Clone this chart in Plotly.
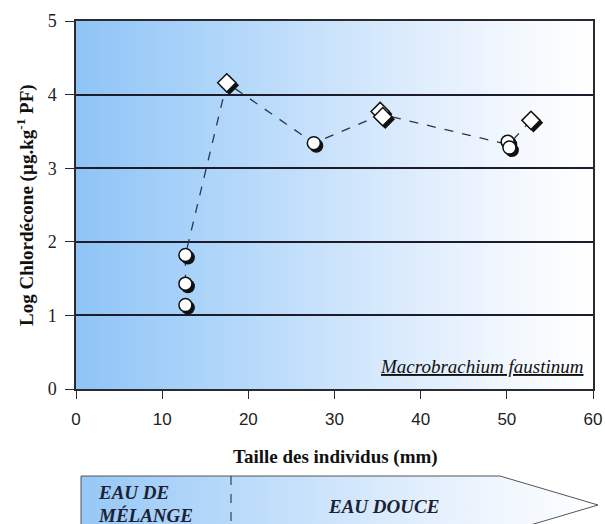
import plotly.graph_objects as go

# ---- data ----
circle_size_mm = [12.7, 12.7, 12.7, 27.6, 50.1, 50.3]
circle_log_cld = [1.14, 1.43, 1.82, 3.34, 3.36, 3.28]
diamond_size_mm = [17.5, 35.3, 35.6, 52.8]
diamond_log_cld = [4.16, 3.77, 3.70, 3.65]
trend_size_mm = [12.7, 12.7, 17.5, 27.6, 35.5, 50.2, 52.8]
trend_log_cld = [1.43, 1.82, 4.16, 3.34, 3.73, 3.32, 3.65]
x_ticks = [0, 10, 20, 30, 40, 50, 60]
y_ticks = [0, 1, 2, 3, 4, 5]

W, H = 605, 524
PL, PR, PT, PB = 76, 593, 21, 389  # plot area in page px

def dom_x(a, b):
    return [a / W, b / W]

def dom_y(top, bottom):
    return [(H - bottom) / H, (H - top) / H]

def px(p):
    return p / W

def py(p):
    return (H - p) / H

fig = go.Figure()

DARK = "#2a2a33"
fig.update_layout(
    width=W, height=H,
    margin=dict(l=0, r=0, t=0, b=0, autoexpand=False),
    paper_bgcolor="white", plot_bgcolor="rgba(0,0,0,0)",
    showlegend=False,
    xaxis=dict(domain=dom_x(PL, PR), range=[0, 60], tickvals=x_ticks, automargin=False,
               ticks="outside", ticklen=8, tickwidth=1.3, tickcolor=DARK,
               showline=True, linecolor=DARK, linewidth=1.5, mirror=True,
               showgrid=False, zeroline=False, ticklabelstandoff=6,
               ticklabeloverflow="allow",
               tickfont=dict(family="Liberation Sans", size=17, color="#222")),
    yaxis=dict(domain=dom_y(PT, PB), range=[0, 5], tickvals=y_ticks, automargin=False,
               ticks="outside", ticklen=9, tickwidth=1.3, tickcolor=DARK,
               showline=True, linecolor=DARK, linewidth=1.5, mirror=True,
               showgrid=True, gridcolor="#1c1c2a", gridwidth=1.5,
               zeroline=False, ticklabelstandoff=5, ticklabeloverflow="allow",
               tickfont=dict(family="Liberation Serif", size=18, color="#222")),
    xaxis2=dict(domain=dom_x(PL + 2.5, PR + 2.5), range=[0, 60], visible=False,
                anchor="y2", automargin=False),
    yaxis2=dict(domain=dom_y(PT + 2.5, PB + 2.5), range=[0, 5], visible=False,
                anchor="x2", automargin=False),
    xaxis3=dict(domain=dom_x(PL, PR), range=[0, 60], visible=False, anchor="y3",
                automargin=False),
    yaxis3=dict(domain=dom_y(PT, PB), range=[0, 5], visible=False, anchor="x3",
                automargin=False),
    # decoration subplot in page-pixel units for the bottom arrow
    xaxis4=dict(domain=[0, 1], range=[0, W], visible=False, anchor="y4",
                automargin=False),
    yaxis4=dict(domain=[0, 1], range=[H, 0], visible=False, anchor="x4",
                automargin=False),
)

def lerp_color(stops, t):
    for i in range(len(stops) - 1):
        t0, c0 = stops[i]
        t1, c1 = stops[i + 1]
        if t0 <= t <= t1:
            f = (t - t0) / (t1 - t0) if t1 > t0 else 0
            return "rgb(%d,%d,%d)" % tuple(round(c0[k] + (c1[k] - c0[k]) * f) for k in range(3))
    return "rgb(%d,%d,%d)" % stops[-1][1]

bg_stops = [(0, (143, 196, 246)), (0.3, (178, 215, 250)), (0.6, (216, 233, 252)),
            (0.85, (243, 248, 254)), (1, (255, 255, 255))]
N = 120
shapes = []
for i in range(N):
    x0 = i / N
    shapes.append(dict(type="rect", xref="x domain", yref="y domain",
                       x0=x0, x1=min(1, x0 + 1.5 / N), y0=0, y1=1,
                       fillcolor=lerp_color(bg_stops, x0 + 0.5 / N),
                       line=dict(width=0), layer="below"))

fig.add_trace(go.Scatter(x=trend_size_mm, y=trend_log_cld, mode="lines",
                         xaxis="x", yaxis="y",
                         line=dict(color="#2c3550", width=1.3, dash="dash")))

fig.add_trace(go.Scatter(x=circle_size_mm, y=circle_log_cld, mode="markers",
                         xaxis="x2", yaxis="y2",
                         marker=dict(symbol="circle", size=14, color="#111",
                                     line=dict(width=0)), hoverinfo="skip"))
fig.add_trace(go.Scatter(x=diamond_size_mm, y=diamond_log_cld, mode="markers",
                         xaxis="x2", yaxis="y2",
                         marker=dict(symbol="diamond", size=15, color="#111",
                                     line=dict(width=0)), hoverinfo="skip"))

fig.add_trace(go.Scatter(x=circle_size_mm, y=circle_log_cld, mode="markers",
                         xaxis="x3", yaxis="y3",
                         marker=dict(symbol="circle", size=13, color="white",
                                     line=dict(width=1.5, color="#111"))))
fig.add_trace(go.Scatter(x=diamond_size_mm, y=diamond_log_cld, mode="markers",
                         xaxis="x3", yaxis="y3",
                         marker=dict(symbol="diamond", size=14, color="white",
                                     line=dict(width=1.5, color="#111"))))

arrow_x = [81, 500, 598, 500, 81, 81]
arrow_y = [476, 476, 505, 534, 534, 476]
fig.add_trace(go.Scatter(x=arrow_x, y=arrow_y, mode="lines", fill="toself",
                         xaxis="x4", yaxis="y4", hoverinfo="skip",
                         line=dict(color="#555", width=1),
                         fillgradient=dict(type="horizontal",
                                           colorscale=[[0, "rgb(150,200,246)"],
                                                       [0.3, "rgb(185,218,250)"],
                                                       [0.7, "rgb(230,241,253)"],
                                                       [1, "rgb(255,255,255)"]])))
fig.add_trace(go.Scatter(x=[231, 231], y=[476, 534], mode="lines",
                         xaxis="x4", yaxis="y4", hoverinfo="skip",
                         line=dict(color="#222", width=1, dash="dash")))

serif = "Liberation Serif"
annotations = [
    dict(text="<b>Log Chlordécone (µg.kg<sup>-1</sup> PF)</b>", xref="paper", yref="paper",
         x=px(26), y=py(205), textangle=-90, showarrow=False,
         font=dict(family=serif, size=19, color="#111"), xanchor="center", yanchor="middle"),
    dict(text="<b>Taille des individus (mm)</b>", xref="paper", yref="paper",
         x=px(335), y=py(457), showarrow=False,
         font=dict(family=serif, size=19, color="#111"), xanchor="center", yanchor="middle"),
    dict(text="<i><u>Macrobrachium faustinum</u></i>", xref="paper", yref="paper",
         x=px(585), y=py(366), showarrow=False,
         font=dict(family=serif, size=19, color="#111"), xanchor="right", yanchor="middle"),
    dict(text="<b><i>EAU DE</i></b>", xref="paper", yref="paper",
         x=px(96), y=py(492), showarrow=False, xanchor="left", yanchor="middle",
         font=dict(family=serif, size=19, color="#1c2233")),
    dict(text="<b><i>MÉLANGE</i></b>", xref="paper", yref="paper",
         x=px(96), y=py(515), showarrow=False, xanchor="left", yanchor="middle",
         font=dict(family=serif, size=19, color="#1c2233")),
    dict(text="<b><i>EAU DOUCE</i></b>", xref="paper", yref="paper",
         x=px(383), y=py(506), showarrow=False, xanchor="center", yanchor="middle",
         font=dict(family=serif, size=19, color="#1c2233")),
]
fig.update_layout(shapes=shapes, annotations=annotations)

fig.write_html("out.html",
               config={"displayModeBar": False},
               post_script="document.body.style.margin='0';"
                           "document.body.style.overflow='hidden';")
